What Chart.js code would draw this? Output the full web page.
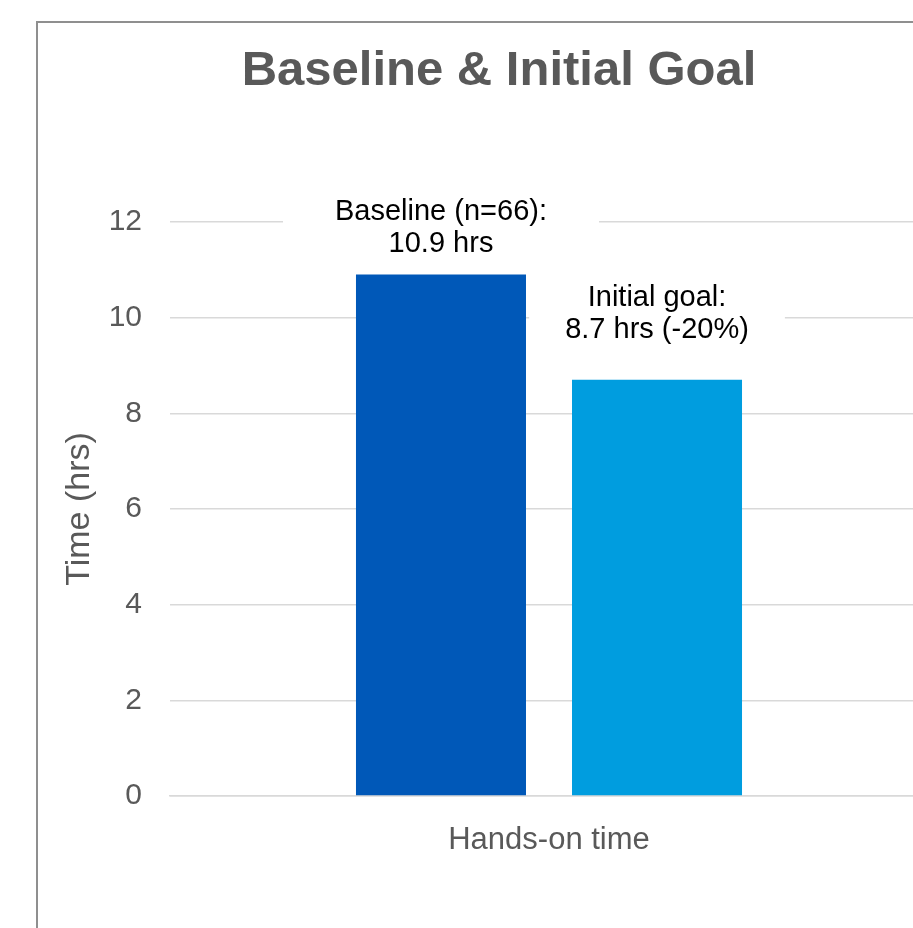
<!DOCTYPE html>
<html>
<head>
<meta charset="utf-8">
<script src="https://cdn.jsdelivr.net/npm/chart.js@4.4.1/dist/chart.umd.min.js"></script>
<style>
    html, body { margin: 0; padding: 0; background: #fff; overflow: hidden; }
    #frame { position: absolute; left: 36px; top: 21px; width: 960px; height: 960px; border: 2px solid #8f8f8f; }
    #chart { display: block; }
</style>
</head>
<body>
<div id="frame"><canvas id="chart" width="960" height="905"></canvas></div>
<script>
const categories = ['Hands-on time'];
const seriesNames = ['Baseline (n=66)', 'Initial goal'];
const baselineHours = [10.9];
const goalHours = [8.7];
const goalChange = '-20%';
const yMin = 0;
const yMax = 12;
const yStep = 2;

const barLabels = [
    [seriesNames[0] + ':', baselineHours[0] + ' hrs'],
    [seriesNames[1] + ':', goalHours[0] + ' hrs (' + goalChange + ')']
];

const FONT = "'Liberation Sans', Arial, sans-serif";
const GRID = '#d9d9d9';
const GRAY = '#595959';

// label placement per dataset: gap above bar top, side padding of the white box
const labelStyle = [
    { gap: 23, padX: 52 },
    { gap: 42, padX: 36 }
];

const boxedLabels = {
    id: 'boxedLabels',
    afterDatasetsDraw(chart) {
        const ctx = chart.ctx;
        const lineGap = 32;
        ctx.save();
        ctx.font = '29px ' + FONT;
        ctx.textAlign = 'center';
        ctx.textBaseline = 'alphabetic';
        chart.data.datasets.forEach((ds, i) => {
            const bar = chart.getDatasetMeta(i).data[0];
            const lines = barLabels[i];
            const st = labelStyle[i];
            const lastBase = bar.y - st.gap;
            const firstBase = lastBase - lineGap * (lines.length - 1);
            const w = Math.max(...lines.map(l => ctx.measureText(l).width));
            ctx.fillStyle = '#fff';
            ctx.fillRect(bar.x - w / 2 - st.padX, firstBase - 21 - 12, w + st.padX * 2, lastBase - firstBase + 21 + 24);
            ctx.fillStyle = '#000';
            lines.forEach((l, k) => ctx.fillText(l, bar.x, firstBase + k * lineGap));
        });
        ctx.restore();
    }
};

new Chart(document.getElementById('chart'), {
    type: 'bar',
    data: {
        labels: categories,
        datasets: [
            { label: seriesNames[0], data: baselineHours, backgroundColor: '#0058b8' },
            { label: seriesNames[1], data: goalHours, backgroundColor: '#009ddf' }
        ]
    },
    options: {
        responsive: false,
        animation: false,
        categoryPercentage: 0.57,
        barPercentage: 0.787,
        layout: { padding: { left: 32, right: 70, top: 0, bottom: 32 } },
        plugins: {
            legend: { display: false },
            tooltip: { enabled: false },
            title: {
                display: true,
                text: 'Baseline & Initial Goal',
                color: GRAY,
                font: { family: FONT, size: 49, weight: 'bold', lineHeight: 1.2 },
                padding: { top: 19, bottom: 121.2 }
            }
        },
        scales: {
            x: {
                grid: { display: false },
                border: { display: true, color: GRID, width: 1.5 },
                ticks: { color: GRAY, font: { family: FONT, size: 31 }, padding: 18 },
                afterFit: s => { s.height = 100; }
            },
            y: {
                min: yMin,
                max: yMax,
                grid: { color: GRID, lineWidth: 1.5, drawTicks: false },
                border: { display: false },
                ticks: { stepSize: yStep, color: GRAY, font: { family: FONT, size: 30 }, padding: 28 },
                title: {
                    display: true,
                    text: 'Time (hrs)',
                    color: GRAY,
                    font: { family: FONT, size: 34, lineHeight: 1.2 },
                    padding: { top: -10.4, bottom: 0 }
                },
                afterFit: s => { s.width = 100; }
            }
        }
    },
    plugins: [boxedLabels]
});
</script>
</body>
</html>
